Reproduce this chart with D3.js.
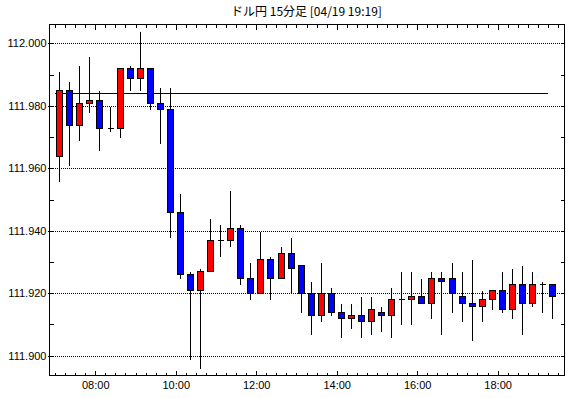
<!DOCTYPE html>
<html>
<head>
<meta charset="utf-8">
<script src="https://cdn.jsdelivr.net/npm/d3@7"></script>
<style>
  body { margin: 0; background: #fff; }
  svg { display: block; }
  text { font-family: "Liberation Sans", Arial, sans-serif; font-size: 11px; fill: #000; }
  .tick line { stroke: #000; shape-rendering: crispEdges; }
  .grid { stroke: #000; stroke-dasharray: 1,1; shape-rendering: crispEdges; }
</style>
</head>
<body>
<svg></svg>
<script>
// chart size (note: "top" is taken by window, so prefix the plot edges)
var width = 570;
var height = 398;
var plotLeft = 49, plotRight = 564, plotTop = 24, plotBottom = 375;

// data --> USD/JPY 15 min candles, 04/19
var times = ['07:00','07:15','07:30','07:45','08:00','08:15','08:30','08:45','09:00','09:15',
             '09:30','09:45','10:00','10:15','10:30','10:45','11:00','11:15','11:30','11:45',
             '12:00','12:15','12:30','12:45','13:00','13:15','13:30','13:45','14:00','14:15',
             '14:30','14:45','15:00','15:15','15:30','15:45','16:00','16:15','16:30','16:45',
             '17:00','17:15','17:30','17:45','18:00','18:15','18:30','18:45','19:00','19:15'];
var opens  = [111.964,111.985,111.974,111.981,111.982,111.973,111.973,111.992,111.989,111.992,
              111.981,111.979,111.946,111.926,111.921,111.927,111.937,111.937,111.941,111.925,
              111.920,111.931,111.925,111.933,111.929,111.920,111.913,111.920,111.914,111.912,
              111.913,111.911,111.914,111.913,111.918,111.918,111.919,111.917,111.925,111.925,
              111.919,111.917,111.916,111.918,111.921,111.915,111.923,111.917,111.923,111.923];
var highs  = [111.991,111.988,111.993,111.996,111.985,111.980,111.992,111.993,112.004,111.992,
              111.986,111.986,111.952,111.927,111.928,111.944,111.942,111.953,111.942,111.930,
              111.940,111.932,111.935,111.938,111.929,111.924,111.930,111.922,111.917,111.917,
              111.919,111.919,111.916,111.922,111.927,111.927,111.925,111.927,111.927,111.930,
              111.927,111.931,111.921,111.921,111.927,111.928,111.929,111.927,111.924,111.923];
var lows   = [111.956,111.961,111.969,111.978,111.966,111.972,111.970,111.985,111.985,111.979,
              111.968,111.938,111.925,111.899,111.896,111.927,111.932,111.935,111.923,111.918,
              111.920,111.918,111.925,111.920,111.914,111.907,111.911,111.913,111.906,111.909,
              111.906,111.907,111.908,111.906,111.910,111.910,111.917,111.912,111.907,111.914,
              111.911,111.905,111.911,111.915,111.914,111.912,111.907,111.916,111.914,111.912];
var closes = [111.985,111.974,111.981,111.982,111.973,111.973,111.992,111.989,111.992,111.981,
              111.979,111.946,111.926,111.921,111.927,111.937,111.937,111.941,111.925,111.920,
              111.931,111.925,111.933,111.928,111.920,111.913,111.920,111.914,111.912,111.913,
              111.911,111.915,111.913,111.918,111.918,111.919,111.917,111.925,111.924,111.920,
              111.917,111.916,111.918,111.921,111.915,111.923,111.917,111.923,111.923,111.919];
var refLevel = 111.984; // flat line across the session
var yTicks = [112.000, 111.980, 111.960, 111.940, 111.920, 111.900];
var yMinor = [112.000, 111.990, 111.980, 111.970, 111.960, 111.950, 111.940, 111.930, 111.920, 111.910, 111.900];
var xTicks = ['08:00','10:00','12:00','14:00','16:00','18:00'];

var parse = d3.timeParse('%Y-%m-%d %H:%M');
var t = s => parse('2019-04-19 ' + s);

var candles = times.map((s, i) => ({
  time: t(s), open: opens[i], high: highs[i], low: lows[i], close: closes[i]
}));

// scales
var x = d3.scaleTime()
  .domain([t('06:51'), t('19:39')])
  .range([plotLeft, plotRight]);

var y = d3.scaleLinear()
  .domain([111.89382, 112.00618])
  .range([plotBottom, plotTop]);

var svg = d3.select('svg')
  .attr('width', width)
  .attr('height', height);

// title
svg.append('text')
  .attr('x', (plotLeft + plotRight) / 2)
  .attr('y', 16)
  .style('text-anchor', 'middle')
  .style('font-family', '"Noto Sans CJK JP", sans-serif')
  .style('font-size', '12px')
  .text('ドル円 15分足 [04/19 19:19]');

// dotted gridlines
svg.append('g')
  .selectAll('line')
  .data(yTicks)
  .enter()
  .append('line')
    .attr('class', 'grid')
    .attr('x1', plotLeft)
    .attr('x2', plotRight)
    .attr('y1', d => Math.round(y(d)) + 0.5)
    .attr('y2', d => Math.round(y(d)) + 0.5);

// x axes, ticks point inwards
var quarter = d3.timeMinute.every(15);
var xMajor = xTicks.map(t);

function addX(axis, yPos) {
  svg.append('g')
    .attr('transform', 'translate(0,' + yPos + ')')
    .call(axis)
    .call(g => g.select('.domain').remove());
}
addX(d3.axisBottom(x).ticks(quarter).tickSize(-3).tickSizeOuter(0).tickFormat(''), plotBottom + 0.5);
addX(d3.axisBottom(x).tickValues(xMajor).tickSize(-5).tickSizeOuter(0).tickPadding(6)
  .tickFormat(d3.timeFormat('%H:%M')), plotBottom + 0.5);
addX(d3.axisTop(x).ticks(quarter).tickSize(-3).tickSizeOuter(0).tickFormat(''), plotTop + 0.5);
addX(d3.axisTop(x).tickValues(xMajor).tickSize(-5).tickSizeOuter(0).tickFormat(''), plotTop + 0.5);

// y axes
function addY(axis, xPos) {
  svg.append('g')
    .attr('transform', 'translate(' + xPos + ',0)')
    .call(axis)
    .call(g => g.select('.domain').remove());
}
addY(d3.axisLeft(y).tickValues(yTicks).tickSize(2).tickSizeOuter(0).tickPadding(1)
  .tickFormat(d3.format('.3f')), plotLeft + 0.5);
addY(d3.axisLeft(y).tickValues(yMinor).tickSize(-4).tickSizeOuter(0).tickFormat(''), plotLeft + 0.5);
addY(d3.axisRight(y).tickValues(yMinor).tickSize(-4).tickSizeOuter(0).tickFormat(''), plotRight + 0.5);

// frame
svg.append('rect')
  .attr('x', plotLeft + 0.5)
  .attr('y', plotTop + 0.5)
  .attr('width', plotRight - plotLeft)
  .attr('height', plotBottom - plotTop)
  .attr('fill', 'none')
  .attr('stroke', '#000')
  .attr('shape-rendering', 'crispEdges');

// reference line
svg.append('line')
  .attr('x1', x(t('07:00')))
  .attr('x2', x(t('19:15')))
  .attr('y1', Math.round(y(refLevel)) + 0.5)
  .attr('y2', Math.round(y(refLevel)) + 0.5)
  .attr('stroke', '#000')
  .attr('shape-rendering', 'crispEdges');

// candles, centred in the middle of each 15 min bar
var cx = d => Math.floor(x(d3.timeMinute.offset(d.time, 7.5))) + 0.5;
var py = v => Math.round(y(v)) + 0.5;

var g = svg.append('g')
  .attr('shape-rendering', 'crispEdges')
  .selectAll('g')
  .data(candles)
  .enter()
  .append('g');

g.append('line')
  .attr('x1', cx)
  .attr('x2', cx)
  .attr('y1', d => py(d.high))
  .attr('y2', d => py(d.low))
  .attr('stroke', '#000');

g.filter(d => py(d.open) !== py(d.close))
  .append('rect')
    .attr('x', d => cx(d) - 3)
    .attr('width', 6)
    .attr('y', d => py(Math.max(d.open, d.close)))
    .attr('height', d => py(Math.min(d.open, d.close)) - py(Math.max(d.open, d.close)))
    .attr('fill', d => d.close > d.open ? '#ff0000' : '#0000ff')
    .attr('stroke', '#000');

// doji: just a flat bar
g.filter(d => py(d.open) === py(d.close))
  .append('line')
    .attr('x1', d => cx(d) - 3)
    .attr('x2', d => cx(d) + 3)
    .attr('y1', d => py(d.open))
    .attr('y2', d => py(d.open))
    .attr('stroke', '#000');
</script>
</body>
</html>
